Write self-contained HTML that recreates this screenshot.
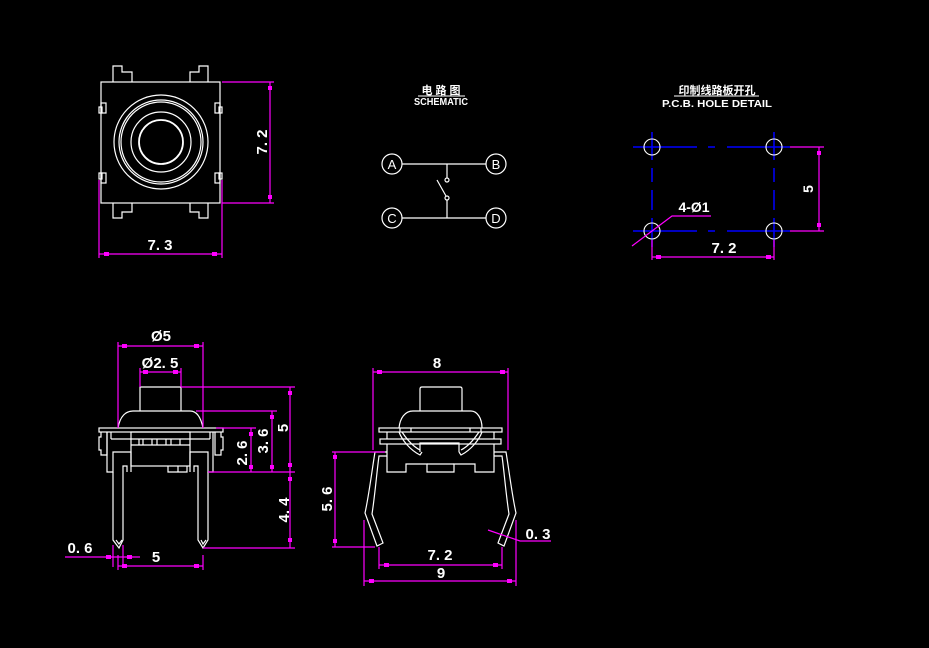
<!DOCTYPE html>
<html><head><meta charset="utf-8"><style>
html,body{margin:0;padding:0;background:#000;}
svg{display:block;}
text{font-family:"Liberation Sans","Noto Sans CJK SC",sans-serif;font-weight:bold;fill:#fff;}
</style></head><body>
<svg width="929" height="648" viewBox="0 0 929 648" xmlns="http://www.w3.org/2000/svg">
<rect width="929" height="648" fill="#000"/>
<!-- ========== TOP VIEW ========== -->
<g stroke="#fff" stroke-width="1.2" fill="none">
  <rect x="101" y="82" width="119" height="121"/>
  <path d="M113,82 V66 H122 V72 H132 V82"/>
  <path d="M208,82 V66 H199 V72 H190 V82"/>
  <path d="M113,203 V218 H122 V212 H132 V203"/>
  <path d="M208,203 V218 H199 V212 H190 V203"/>
  <rect x="99" y="107" width="3" height="6"/><rect x="101" y="103" width="5" height="10"/>
  <rect x="99" y="173" width="3" height="6"/><rect x="101" y="173" width="5" height="10"/>
  <rect x="219" y="107" width="3" height="6"/><rect x="215" y="103" width="5" height="10"/>
  <rect x="219" y="173" width="3" height="6"/><rect x="215" y="173" width="5" height="10"/>
  <circle cx="161" cy="142" r="47"/>
  <circle cx="161" cy="142" r="42"/>
  <circle cx="161" cy="142" r="40"/>
  <circle cx="161" cy="142" r="30"/>
  <circle cx="161" cy="142" r="22" stroke-width="1.8"/>
</g>
<g stroke="#f0f" stroke-width="1.2" fill="none">
  <path d="M222,82 H274 M222,203 H274 M270,82 V203"/>
  <path d="M99,180 V258 M222,180 V258 M99,254 H222"/>
</g>
<g fill="#f0f">
  <rect x="268" y="86" width="4" height="4"/><rect x="268" y="195" width="4" height="4"/>
  <rect x="104" y="252" width="5" height="4"/><rect x="212" y="252" width="5" height="4"/>
</g>
<text x="262" y="142" font-size="15" text-anchor="middle" transform="rotate(-90 262 142)" dy="5">7. 2</text>
<text x="160" y="250" font-size="15" text-anchor="middle">7. 3</text>

<!-- ========== SCHEMATIC ========== -->
<text x="441" y="94" font-size="11" text-anchor="middle">电 路 图</text>
<line x1="418" y1="96" x2="465" y2="96" stroke="#fff" stroke-width="1"/>
<text x="441" y="105" font-size="10" text-anchor="middle" textLength="54" lengthAdjust="spacingAndGlyphs">SCHEMATIC</text>
<g stroke="#fff" stroke-width="1.2" fill="none">
  <circle cx="392" cy="164" r="10"/><circle cx="496" cy="164" r="10"/>
  <circle cx="392" cy="218" r="10"/><circle cx="496" cy="218" r="10"/>
  <path d="M402,164 H486 M402,218 H486"/>
  <path d="M447,164 V178 M447,200 V218 M437,180 L446,196"/>
  <circle cx="447" cy="180" r="2"/><circle cx="447" cy="198" r="2"/>
</g>
<g font-size="13" text-anchor="middle">
<text x="392" y="169" style="font-weight:normal">A</text>
<text x="496" y="169" style="font-weight:normal">B</text>
<text x="392" y="223" style="font-weight:normal">C</text>
<text x="496" y="223" style="font-weight:normal">D</text>
</g>

<!-- ========== PCB ========== -->
<text x="717" y="94" font-size="11" text-anchor="middle">印制线路板开孔</text>
<line x1="674" y1="96" x2="759" y2="96" stroke="#fff" stroke-width="1"/>
<text x="717" y="107" font-size="10" text-anchor="middle" textLength="110" lengthAdjust="spacingAndGlyphs">P.C.B.  HOLE DETAIL</text>
<g stroke="#00f" stroke-width="1.5" fill="none">
  <path d="M633,147 H697 M708,147 H715 M727,147 H790"/>
  <path d="M633,231 H697 M708,231 H715 M727,231 H790"/>
  <path d="M652,132 V160 M652,168 V182 M652,190 V210 M652,218 V247"/>
  <path d="M774,132 V160 M774,168 V182 M774,190 V210 M774,218 V247"/>
</g>
<g stroke="#fff" stroke-width="1.1" fill="none">
  <circle cx="652" cy="147" r="8"/><circle cx="774" cy="147" r="8"/>
  <circle cx="652" cy="231" r="8"/><circle cx="774" cy="231" r="8"/>
</g>
<g stroke="#f0f" stroke-width="1.2" fill="none">
  <path d="M790,147 H824 M790,231 H824 M819,147 V231"/>
  <path d="M652,240 V260 M774,240 V260 M652,257 H774"/>
  <path d="M632,246 L672,216 H711"/>
</g>
<g fill="#f0f">
  <rect x="817" y="151" width="4" height="4"/><rect x="817" y="223" width="4" height="4"/>
  <rect x="656" y="255" width="5" height="4"/><rect x="766" y="255" width="5" height="4"/>
</g>
<text x="808" y="189" font-size="14" text-anchor="middle" transform="rotate(-90 808 189)" dy="5">5</text>
<text x="724" y="253" font-size="15" text-anchor="middle">7. 2</text>
<text x="694" y="212" font-size="14" text-anchor="middle">4-Ø1</text>

<!-- ========== FRONT VIEW LEFT ========== -->
<g stroke="#fff" stroke-width="1.2" fill="none">
  <path d="M140,411 V387 H181 V411"/>
  <path d="M118,428 C120,416 126,411 133,411 H190 C197,411 201,418 203,428"/>
  <rect x="99" y="428" width="124" height="4"/>
  <path d="M101,432 V437 H99 V450 H101 V455 H107 V432"/>
  <path d="M221,432 V437 H223 V450 H221 V455 H215 V432"/>
  <path d="M107,432 V472 H113 V452 H131 V472 M190,472 V452 H208 V472 H213 V432"/>
  <path d="M111,432 V439 M210,432 V439 M111,439 H210"/>
  <rect x="131" y="432" width="59" height="34"/>
  <path d="M131,445 H190 M139,439 V445 M143,439 V445 M152,439 V445 M157,439 V445 M166,439 V445 M171,439 V445 M180,439 V445"/>
  <path d="M168,466 V472 H187 V466 M178,466 V472"/>
  <path d="M113,472 V540 L119,548 L123,540 V466 H127 V472"/>
  <path d="M208,472 V540 L203,548 L198,540 V466 H194 V472"/>
  <path d="M116,540 L119,544 L122,540 M201,540 L203,544 L206,540"/>
</g>
<g stroke="#f0f" stroke-width="1.2" fill="none">
  <path d="M118,342 V428 M203,342 V428 M118,346 H203"/>
  <path d="M140,368 V387 M181,368 V387 M140,372 H181"/>
  <path d="M181,387 H295 M196,411 H277 M216,428 H256 M208,472 H295 M203,548 H295"/>
  <path d="M290,387 V548 M272,411 V472 M251,428 V472"/>
  <path d="M65,557 H140 M113,545 V567 M123,545 V567 M118,566 H203 M118,555 V570 M203,555 V570"/>
</g>
<g fill="#f0f">
  <rect x="122" y="344" width="5" height="4"/><rect x="194" y="344" width="5" height="4"/>
  <rect x="143" y="370" width="5" height="4"/><rect x="173" y="370" width="5" height="4"/>
  <rect x="288" y="391" width="4" height="4"/><rect x="288" y="463" width="4" height="4"/>
  <rect x="288" y="477" width="4" height="4"/><rect x="288" y="538" width="4" height="4"/>
  <rect x="270" y="415" width="4" height="4"/><rect x="270" y="465" width="4" height="4"/>
  <rect x="249" y="432" width="4" height="4"/><rect x="249" y="465" width="4" height="4"/>
  <rect x="106" y="555" width="5" height="4"/><rect x="127" y="555" width="5" height="4"/>
  <rect x="122" y="564" width="5" height="4"/><rect x="194" y="564" width="5" height="4"/>
</g>
<text x="161" y="341" font-size="15" text-anchor="middle">Ø5</text>
<text x="160" y="368" font-size="15" text-anchor="middle">Ø2. 5</text>
<text x="283" y="428" font-size="15" text-anchor="middle" transform="rotate(-90 283 428)" dy="5">5</text>
<text x="263" y="441" font-size="15" text-anchor="middle" transform="rotate(-90 263 441)" dy="5">3. 6</text>
<text x="242" y="453" font-size="15" text-anchor="middle" transform="rotate(-90 242 453)" dy="5">2. 6</text>
<text x="284" y="510" font-size="15" text-anchor="middle" transform="rotate(-90 284 510)" dy="5">4. 4</text>
<text x="80" y="553" font-size="15" text-anchor="middle">0. 6</text>
<text x="156" y="562" font-size="15" text-anchor="middle">5</text>

<!-- ========== FRONT VIEW RIGHT ========== -->
<g stroke="#fff" stroke-width="1.2" fill="none">
  <path d="M420,411 V389 Q420,387 422,387 H460 Q462,387 462,389 V411"/>
  <path d="M399,428 C400,418 405,411 413,411 H471 C477,411 482,418 482,428"/>
  <rect x="379" y="428" width="123" height="4"/>
  <path d="M400,428 V432 M411,428 V432 M470,428 V432 M481,428 V432"/>
  <rect x="380" y="439" width="121" height="5"/>
  <path d="M387,432 V439 M494,432 V439 M387,444 V472 H406 V464 H427 V472 H454 V464 H475 V472 H494 V444"/>
  <path d="M427,464 H454"/>
  <path d="M420,452 V443 H459 V452"/>
  <path d="M399,432 C402,440 410,450 420,455 L422,452 M482,432 C479,440 471,450 461,455 L459,452"/>
  <path d="M402,432 C406,438 412,446 420,450 M479,432 C475,438 469,446 461,450"/>
  <path d="M387,452 H375 C372,470 369,495 365,513 L377,546 L383,543 L372,514 C375,495 377,470 379,456 H387"/>
  <path d="M494,452 H506 C509,470 512,495 516,513 L504,546 L498,543 L509,514 C506,495 504,470 502,456 H494"/>
</g>
<g stroke="#f0f" stroke-width="1.2" fill="none">
  <path d="M373,368 V450 M508,368 V450 M373,372 H508"/>
  <path d="M332,452 H385 M332,547 H375 M335,452 V547"/>
  <path d="M379,547 V569 M502,547 V569 M379,565 H502"/>
  <path d="M364,520 V586 M516,520 V586 M364,581 H516"/>
  <path d="M488,530 L520,541 H551"/>
</g>
<g fill="#f0f">
  <rect x="377" y="370" width="5" height="4"/><rect x="500" y="370" width="5" height="4"/>
  <rect x="333" y="455" width="4" height="4"/><rect x="333" y="539" width="4" height="4"/>
  <rect x="384" y="563" width="5" height="4"/><rect x="493" y="563" width="5" height="4"/>
  <rect x="369" y="579" width="5" height="4"/><rect x="507" y="579" width="5" height="4"/>
</g>
<text x="437" y="368" font-size="15" text-anchor="middle">8</text>
<text x="327" y="499" font-size="15" text-anchor="middle" transform="rotate(-90 327 499)" dy="5">5. 6</text>
<text x="440" y="560" font-size="15" text-anchor="middle">7. 2</text>
<text x="441" y="578" font-size="15" text-anchor="middle">9</text>
<text x="538" y="539" font-size="15" text-anchor="middle">0. 3</text>
</svg>
</body></html>
